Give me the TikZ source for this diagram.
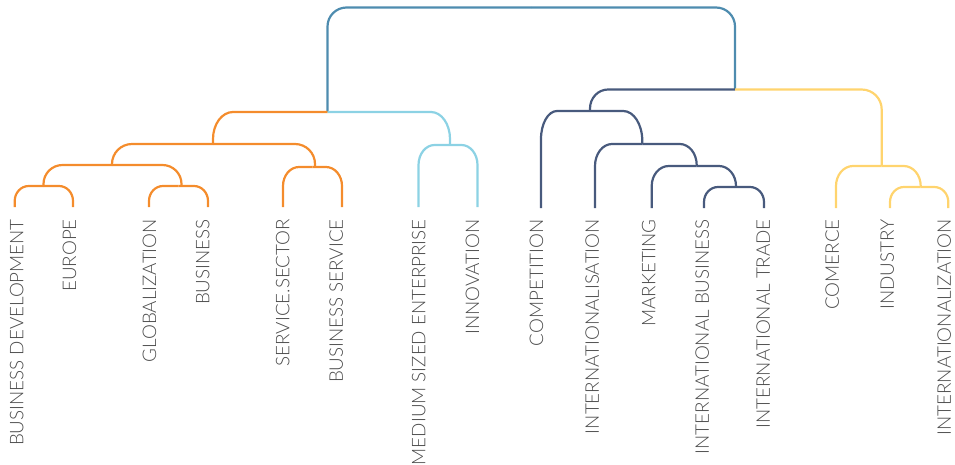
\documentclass[tikz,border=0pt]{standalone}
\usepackage{fontspec}
\setmainfont{Lato Light}
\definecolor{cRoot}{RGB}{78,140,175}
\definecolor{cOrange}{RGB}{244,140,44}
\definecolor{cCyan}{RGB}{140,210,228}
\definecolor{cNavy}{RGB}{72,90,125}
\definecolor{cYellow}{RGB}{255,212,110}
\definecolor{cText}{RGB}{75,75,75}
\tikzset{
  link/.style={line width=2.2pt, line cap=butt, line join=round},
  lbl/.style={rotate=90, anchor=east, inner sep=0pt, text=cText,
    font=\fontsize{18.8}{18.8}\selectfont, text height=13.5pt, text depth=0pt}
}
% left half: color, L, BL, M, T, rx, ry
\newcommand{\lhalf}[7]{%
  \draw[link,#1] (#2,-#3) -- ({#2},{-#5-#7})
    arc[start angle=180,end angle=90,x radius=#6,y radius=#7] -- (#4,-#5);}
% right half: color, M, R, BR, T, rx, ry
\newcommand{\rhalf}[7]{%
  \draw[link,#1] (#2,-#5) -- ({#3-#6},{-#5})
    arc[start angle=90,end angle=0,x radius=#6,y radius=#7] -- (#3,-#4);}
\begin{document}
\begin{tikzpicture}[x=1pt,y=1pt]
\useasboundingbox (0,0) rectangle (955,-464);
% root
\lhalf{cRoot}{327.5}{112}{531}{7.5}{19}{19}
\rhalf{cRoot}{531}{735}{89.5}{7.5}{19}{19}
% orange / cyan level
\lhalf{cOrange}{213}{144}{327.5}{112}{20}{27}
\rhalf{cCyan}{327.5}{450}{145}{112}{19}{27}
% orange subtree
\lhalf{cOrange}{112}{165}{213}{144}{20}{20}
\rhalf{cOrange}{213}{315}{167}{144}{20}{20}
\lhalf{cOrange}{43.5}{186}{112}{165}{19}{19}
\rhalf{cOrange}{112}{181.5}{186}{165}{19}{19}
\lhalf{cOrange}{14.7}{207}{43.8}{186}{14}{15}
\rhalf{cOrange}{43.8}{73}{207}{186}{14}{15}
\lhalf{cOrange}{149}{207}{178.5}{186}{14}{15}
\rhalf{cOrange}{178.5}{208}{207}{186}{14}{15}
\lhalf{cOrange}{283}{207}{312.5}{167}{16}{19}
\rhalf{cOrange}{312.5}{342}{207}{167}{16}{19}
% cyan subtree
\lhalf{cCyan}{418.5}{207}{448}{145}{16}{20}
\rhalf{cCyan}{448}{477.5}{207}{145}{16}{20}
% navy / yellow level
\lhalf{cNavy}{590}{111}{735}{89.5}{18}{19}
\rhalf{cYellow}{735}{881.7}{166}{89.5}{20}{20}
% navy subtree
\lhalf{cNavy}{541}{208}{590}{111}{16}{28}
\rhalf{cNavy}{590}{642.3}{144}{111}{19}{30}
\lhalf{cNavy}{595}{208}{642.3}{144}{17}{22}
\rhalf{cNavy}{642.3}{696.7}{166}{144}{17}{21}
\lhalf{cNavy}{651.7}{208}{696.7}{166}{17}{20}
\rhalf{cNavy}{696.7}{736}{187}{166}{17}{20}
\lhalf{cNavy}{704}{208}{734}{187}{14}{15}
\rhalf{cNavy}{734}{764}{208}{187}{14}{15}
% yellow subtree
\lhalf{cYellow}{836}{208}{881.7}{166}{17}{20}
\rhalf{cYellow}{881.7}{920.7}{187}{166}{17}{20}
\lhalf{cYellow}{890}{208}{920.7}{187}{14}{15}
\rhalf{cYellow}{920.7}{948.3}{208}{187}{14}{15}
% labels
\node[lbl] (l1) at (16.7,-219) {BUSINESS DEVELOPMENT};
\node[lbl] (l2) at (69.3,-219) {EUROPE};
\node[lbl] (l3) at (149.3,-219) {GLOBALIZATION};
\node[lbl] (l4) at (202.7,-219) {BUSINESS};
\node[lbl] (l5) at (282.7,-219) {SERVICE.SECTOR};
\node[lbl] (l6) at (336,-219) {BUSINESS SERVICE};
\node[lbl] (l7) at (418.7,-219) {MEDIUM SIZED ENTERPRISE};
\node[lbl] (l8) at (472.3,-219) {INNOVATION};
\node[lbl] (l9) at (536.3,-219) {COMPETITION};
\node[lbl] (l10) at (592,-219) {INTERNATIONALISATION};
\node[lbl] (l11) at (648.7,-219) {MARKETING};
\node[lbl] (l12) at (702.2,-219) {INTERNATIONAL BUSINESS};
\node[lbl] (l13) at (763,-219) {INTERNATIONAL TRADE};
\node[lbl] (l14) at (832,-219) {COMERCE};
\node[lbl] (l15) at (887,-219) {INDUSTRY};
\node[lbl] (l16) at (944,-219) {INTERNATIONALIZATION};
\end{tikzpicture}
\end{document}
